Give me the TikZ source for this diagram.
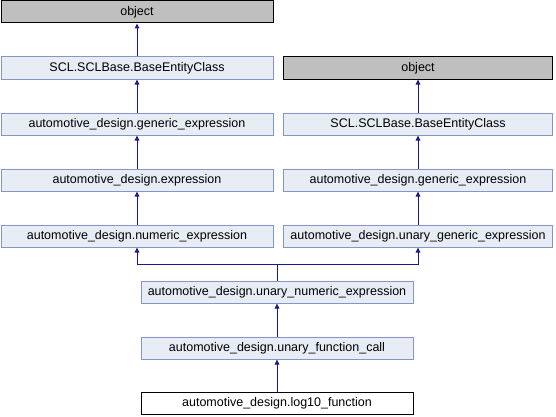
\documentclass[tikz,border=0pt]{standalone}
\usepackage{fontspec}
\setmainfont{Liberation Sans}
\usetikzlibrary{arrows.meta}
\definecolor{boxfill}{HTML}{E8ECF5}
\definecolor{boxdraw}{HTML}{8595C8}
\definecolor{objfill}{HTML}{BFBFBF}
\definecolor{edge}{HTML}{1A1A8F}
\begin{document}
\begin{tikzpicture}[x=1pt,y=1pt,
  cls/.style={draw=boxdraw,fill=boxfill,line width=1pt,minimum height=22pt,inner sep=0pt,font=\fontsize{12.5}{14}\selectfont},
  objbox/.style={cls,draw=black,fill=objfill},
  leafbox/.style={cls,draw=black,fill=white},
  arr/.style={draw=edge,line width=1pt,-{Triangle[length=5pt,width=4.5pt]}}]
\useasboundingbox (0,0) rectangle (556,416);
\node[objbox,minimum width=272pt] (objL) at (137,404) {object};
\node[cls,minimum width=272pt] (sclL) at (137,348) {SCL.SCLBase.BaseEntityClass};
\node[cls,minimum width=272pt] (genL) at (137,292) {automotive\_design.generic\_expression};
\node[cls,minimum width=272pt] (expr) at (137,236) {automotive\_design.expression};
\node[cls,minimum width=272pt] (numL) at (137,180) {automotive\_design.numeric\_expression};
\node[objbox,minimum width=269pt] (objR) at (418,348) {object};
\node[cls,minimum width=269pt] (sclR) at (418,292) {SCL.SCLBase.BaseEntityClass};
\node[cls,minimum width=269pt] (genR) at (418,236) {automotive\_design.generic\_expression};
\node[cls,minimum width=269pt] (ugen) at (418,180) {automotive\_design.unary\_generic\_expression};
\node[cls,minimum width=272pt] (unum) at (277,124) {automotive\_design.unary\_numeric\_expression};
\node[cls,minimum width=272pt] (ufc) at (277,68) {automotive\_design.unary\_function\_call};
\node[leafbox,minimum width=272pt] (log) at (277,12.5) {automotive\_design.log10\_function};
\draw[arr] (sclL.north) -- (objL.south);
\draw[arr] (genL.north) -- (sclL.south);
\draw[arr] (expr.north) -- (genL.south);
\draw[arr] (numL.north) -- (expr.south);
\draw[arr] (sclR.north) -- (objR.south);
\draw[arr] (genR.north) -- (sclR.south);
\draw[arr] (ugen.north) -- (genR.south);
\coordinate (m) at (277,152);
\draw[draw=edge,line width=1pt] (unum.north) -- (m);
\draw[arr] (m) -| (numL.south);
\draw[arr] (m) -| (ugen.south);
\draw[arr] (ufc.north) -- (unum.south);
\draw[arr] (log.north) -- (ufc.south);
\end{tikzpicture}
\end{document}
